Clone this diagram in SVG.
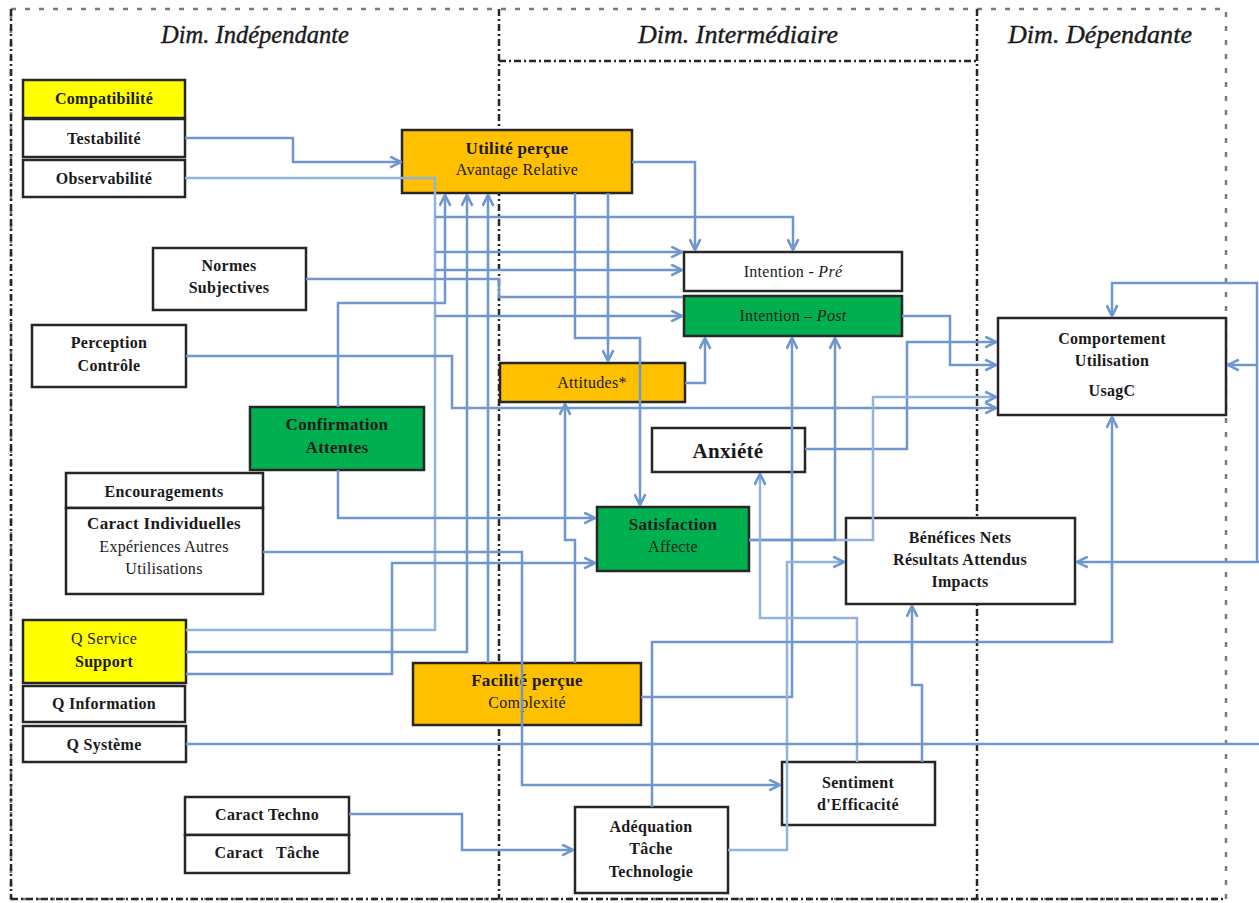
<svg xmlns="http://www.w3.org/2000/svg" width="1259" height="903" viewBox="0 0 1259 903">
  <defs>
    <marker id="arr" viewBox="0 0 12 12" refX="11" refY="6" markerWidth="13" markerHeight="13" markerUnits="userSpaceOnUse" orient="auto">
      <path d="M1,1 L11,6 L1,11" fill="none" stroke="#6F97CF" stroke-width="2.4"/>
    </marker>
    <style>
      .frame { fill: none; stroke: #7a7a7a; stroke-width: 2.5; stroke-dasharray: 5 9; }
      .div { fill: none; stroke: #262626; stroke-width: 2.5; stroke-dasharray: 7 3 2 3; }
      .title { font-family: "Liberation Serif", serif; font-style: italic; font-size: 26px; fill: #1a1a1a; text-anchor: middle; stroke: #1a1a1a; stroke-width: 0.4; }
      .box { stroke: #262626; stroke-width: 2.5; }
      .w { fill: #ffffff; }
      .y { fill: #ffff00; }
      .o { fill: #ffc000; }
      .g { fill: #00b050; }
      .t { font-family: "Liberation Serif", serif; font-size: 16px; letter-spacing: 0.3px; fill: #1a1a1a; text-anchor: middle; }
      .b { font-weight: bold; }
      .big { font-size: 17px; }
      .huge { font-size: 21px; }
      .c { fill: none; stroke: #6F97CF; stroke-width: 2.5; }
      .cl { fill: none; stroke: #93B2DC; stroke-width: 2.5; }
      .a { marker-end: url(#arr); }
    </style>
  </defs>

  <rect width="1259" height="903" fill="#ffffff"/>

  <!-- outer frame and column titles -->
  <g id="columns">
    <rect class="frame" x="11" y="9" width="1215" height="890"/>
    <line class="div" x1="11" y1="9" x2="11" y2="899"/>
    <line class="div" x1="499" y1="9" x2="499" y2="899"/>
    <line class="div" x1="977" y1="9" x2="977" y2="899"/>
    <line class="div" x1="499" y1="61" x2="977" y2="61"/>
    <line class="div" x1="11" y1="899" x2="1226" y2="899"/>
    <text class="title" x="255" y="43" textLength="188" lengthAdjust="spacingAndGlyphs">Dim. Indépendante</text>
    <text class="title" x="738" y="43" textLength="200" lengthAdjust="spacingAndGlyphs">Dim. Intermédiaire</text>
    <text class="title" x="1100" y="43" textLength="184" lengthAdjust="spacingAndGlyphs">Dim. Dépendante</text>
  </g>

  <!-- nodes -->
  <g id="compatibilite"><rect class="box y" x="23" y="80" width="162" height="38"/><text class="t b" x="104" y="104">Compatibilité</text></g>
  <g id="testabilite"><rect class="box w" x="23" y="119" width="162" height="38"/><text class="t b" x="104" y="144">Testabilité</text></g>
  <g id="observabilite"><rect class="box w" x="23" y="160" width="162" height="37"/><text class="t b" x="104" y="184">Observabilité</text></g>

  <g id="utilite"><rect class="box o" x="402" y="130" width="230" height="63"/>
    <text class="t b big" x="517" y="154">Utilité perçue</text>
    <text class="t" x="517" y="175">Avantage Relative</text></g>

  <g id="normes"><rect class="box w" x="153" y="248" width="153" height="62"/>
    <text class="t b" x="229" y="271">Normes</text><text class="t b" x="229" y="293">Subjectives</text></g>

  <g id="perception"><rect class="box w" x="32" y="325" width="154" height="62"/>
    <text class="t b" x="109" y="348">Perception</text><text class="t b" x="109" y="371">Contrôle</text></g>

  <g id="confirmation"><rect class="box g" x="250" y="407" width="174" height="63"/>
    <text class="t b big" x="337" y="430">Confirmation</text><text class="t b big" x="337" y="453">Attentes</text></g>

  <g id="encouragements"><rect class="box w" x="66" y="473" width="197" height="35"/>
    <text class="t b" x="164" y="497">Encouragements</text></g>
  <g id="caract-individuelles"><rect class="box w" x="66" y="508" width="197" height="86"/>
    <text class="t b big" x="164" y="529">Caract Individuelles</text>
    <text class="t" x="164" y="552">Expériences Autres</text>
    <text class="t" x="164" y="574">Utilisations</text></g>

  <g id="q-service"><rect class="box y" x="23" y="620" width="163" height="63"/>
    <text class="t" x="104" y="644">Q Service</text><text class="t b" x="104" y="667">Support</text></g>
  <g id="q-information"><rect class="box w" x="23" y="686" width="162" height="36"/><text class="t b" x="104" y="709">Q Information</text></g>
  <g id="q-systeme"><rect class="box w" x="23" y="726" width="163" height="36"/><text class="t b" x="104" y="750">Q Système</text></g>

  <g id="caract-techno"><rect class="box w" x="185" y="797" width="164" height="38"/><text class="t b" x="267" y="820">Caract Techno</text></g>
  <g id="caract-tache"><rect class="box w" x="185" y="835" width="164" height="38"/><text class="t b" x="267" y="858" xml:space="preserve">Caract   Tâche</text></g>

  <g id="intention-pre"><rect class="box w" x="684" y="252" width="218" height="39"/>
    <text class="t" x="793" y="277">Intention - <tspan font-style="italic">Pré</tspan></text></g>
  <g id="intention-post"><rect class="box g" x="684" y="296" width="218" height="40"/>
    <text class="t" x="793" y="321">Intention – <tspan font-style="italic">Post</tspan></text></g>

  <g id="attitudes"><rect class="box o" x="500" y="363" width="185" height="39"/><text class="t" x="592" y="388">Attitudes*</text></g>

  <g id="anxiete"><rect class="box w" x="652" y="428" width="153" height="44"/><text class="t b huge" x="728" y="458">Anxiété</text></g>

  <g id="comportement"><rect class="box w" x="998" y="318" width="228" height="97"/>
    <text class="t b" x="1112" y="344">Comportement</text>
    <text class="t b" x="1112" y="366">Utilisation</text>
    <text class="t b" x="1112" y="396">UsagC</text></g>

  <g id="satisfaction"><rect class="box g" x="597" y="507" width="152" height="64"/>
    <text class="t b big" x="673" y="530">Satisfaction</text><text class="t" x="673" y="552">Affecte</text></g>

  <g id="benefices"><rect class="box w" x="846" y="518" width="229" height="86"/>
    <text class="t b" x="960" y="543">Bénéfices Nets</text>
    <text class="t b" x="960" y="565">Résultats Attendus</text>
    <text class="t b" x="960" y="587">Impacts</text></g>

  <g id="facilite"><rect class="box o" x="413" y="663" width="228" height="62"/>
    <text class="t b big" x="527" y="686">Facilité perçue</text><text class="t" x="527" y="708">Complexité</text></g>

  <g id="sentiment"><rect class="box w" x="782" y="762" width="153" height="63"/>
    <text class="t b" x="858" y="788">Sentiment</text><text class="t b" x="858" y="810">d'Efficacité</text></g>

  <g id="adequation"><rect class="box w" x="575" y="807" width="153" height="86"/>
    <text class="t b" x="651" y="832">Adéquation</text>
    <text class="t b" x="651" y="854">Tâche</text>
    <text class="t b" x="651" y="877">Technologie</text></g>

  <!-- connectors -->
  <g id="connectors">
    <path class="c a" d="M185,138 H293 V162 H401"/>
    <path class="cl" d="M185,178 H435 V630 H186"/>
    <path class="c a" d="M435,217 H793 V250"/>
    <path class="c a" d="M435,252 H682"/>
    <path class="c a" d="M435,270 H682"/>
    <path class="c a" d="M435,316 H682"/>
    <path class="c a" d="M186,652 H467 V195"/>
    <path class="c a" d="M186,674 H392 V563 H595"/>
    <path class="c a" d="M338,407 V303 H445 V195"/>
    <path class="c a" d="M338,470 V518 H595"/>
    <path class="c a" d="M488,663 V195"/>
    <path class="c" d="M306,279 H499 V297 H683"/>
    <path class="c a" d="M186,356 H452 V408 H996"/>
    <path class="c a" d="M632,162 H695 V250"/>
    <path class="c a" d="M608,193 V361"/>
    <path class="c a" d="M575,193 V338 H640 V505"/>
    <path class="c a" d="M685,383 H705 V338"/>
    <path class="c a" d="M575,663 V540 H565 V404"/>
    <path class="c a" d="M263,552 H522 V785 H780"/>
    <path class="c a" d="M902,316 H950 V365 H996"/>
    <path class="c a" d="M805,449 H907 V342 H996"/>
    <path class="cl a" d="M749,540 H873 V397 H996"/>
    <path class="c a" d="M749,540 H835 V338"/>
    <path class="c a" d="M641,697 H792 V338"/>
    <path class="cl a" d="M728,850 H787 V562 H844"/>
    <path class="c a" d="M652,807 V642 H1112 V417"/>
    <path class="cl a" d="M857,762 V618 H760 V474"/>
    <path class="c a" d="M922,762 V685 H912 V606"/>
    <path class="c a" d="M349,814 H462 V850 H573"/>
    <path class="c" d="M186,744 H1259"/>
    <path class="c a" d="M1259,562 H1077"/>
    <path class="c a" d="M1257,562 V283 H1112 V316"/>
    <path class="c a" d="M1257,365 H1228"/>
  </g>
</svg>
